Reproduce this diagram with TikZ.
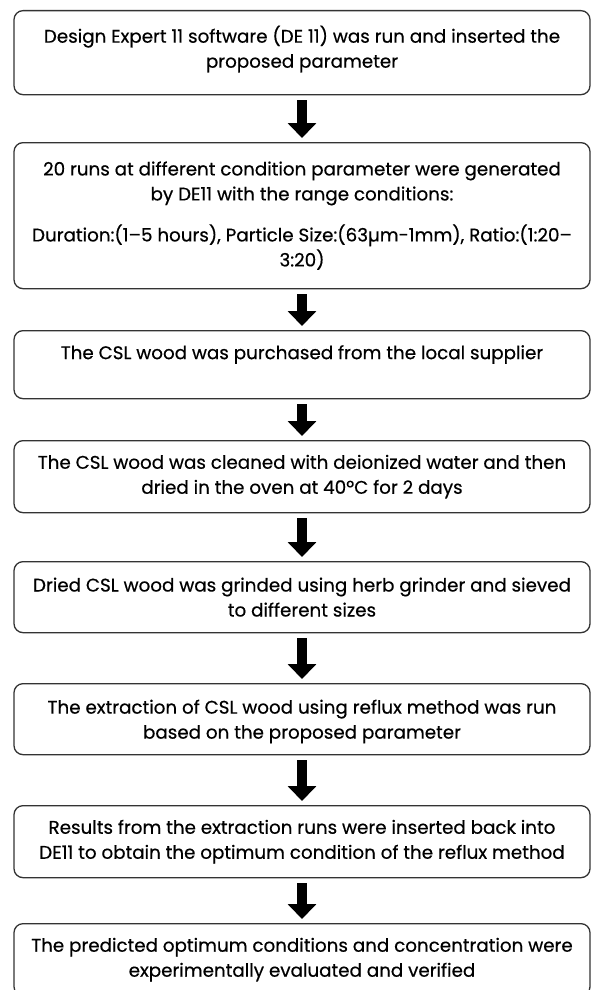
\documentclass[tikz,border=0pt]{standalone}
\usepackage{fontspec}
\setmainfont{Poppins}
\newfontfamily\stepfont{Poppins}[FakeBold=0.5]
\usetikzlibrary{arrows.meta}

\begin{document}
\begin{tikzpicture}[x=1pt,y=1pt,
    stepbox/.style={draw=black!80,line width=1.3pt,rounded corners=9pt,anchor=north,
      minimum width=576pt,align=center,inner sep=0pt,font=\stepfont\fontsize{18.3}{25}\selectfont},
    flowarrow/.style={line width=10.5pt,-{Triangle[width=28pt,length=15pt]},
      shorten <=5pt,shorten >=4pt}]
  \useasboundingbox (0,0) rectangle (592,-990);
  % process steps
  \node[stepbox,minimum height=84pt,text depth=12pt] (design) at (302,-10)
    {Design Expert 11 software (DE 11) was run and inserted the\\ proposed parameter};
  \node[stepbox,minimum height=146pt] (runs) at (302,-142)
    {20 runs at different condition parameter were generated\\ by DE11 with the range conditions:\\[16pt]
     Duration:(1–5 hours), Particle Size:(63µm-1mm), Ratio:(1:20–\\ 3:20)};
  \node[stepbox,minimum height=68pt] (purchase) at (302,-330)
    {The CSL wood was purchased from the local supplier\\ \mbox{}};
  \node[stepbox,minimum height=72pt] (clean) at (302,-440)
    {The CSL wood was cleaned with deionized water and then\\ dried in the oven at 40ºC for 2 days};
  \node[stepbox,minimum height=71pt] (grind) at (302,-561)
    {Dried CSL wood was grinded using herb grinder and sieved\\ to different sizes};
  \node[stepbox,minimum height=71pt,text depth=0pt] (reflux) at (302,-683)
    {The extraction of CSL wood using reflux method was run\\ based on the proposed parameter};
  \node[stepbox,minimum height=72pt] (results) at (302,-805)
    {Results from the extraction runs were inserted back into\\ DE11 to obtain the optimum condition of the reflux method};
  \node[stepbox,minimum height=72pt] (verify) at (302,-923)
    {The predicted optimum conditions and concentration were\\ experimentally evaluated and verified};
  % arrows
  \draw[flowarrow] (design.south) -- (runs.north);
  \draw[flowarrow] (runs.south) -- (purchase.north);
  \draw[flowarrow] (purchase.south) -- (clean.north);
  \draw[flowarrow] (clean.south) -- (grind.north);
  \draw[flowarrow] (grind.south) -- (reflux.north);
  \draw[flowarrow] (reflux.south) -- (results.north);
  \draw[flowarrow] (results.south) -- (verify.north);
\end{tikzpicture}
\end{document}
